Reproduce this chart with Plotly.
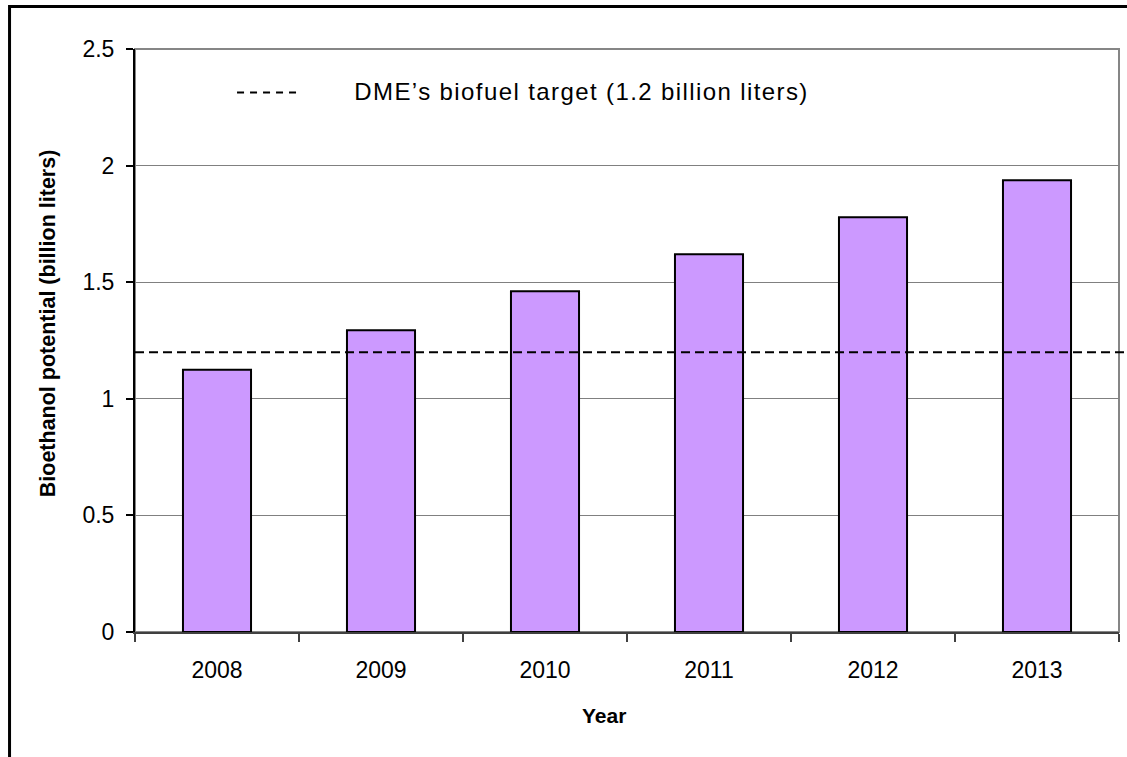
import plotly.graph_objects as go

# Bioethanol potential by year (billion liters)
years = ["2008", "2009", "2010", "2011", "2012", "2013"]
potential = [1.125, 1.294, 1.461, 1.620, 1.778, 1.937]

# DME biofuel target (billion liters)
target = 1.2
target_label = "DME\u2019s biofuel target (1.2 billion liters)"

y_ticks = [0, 0.5, 1, 1.5, 2, 2.5]
y_ticktext = ["0", "0.5", "1", "1.5", "2", "2.5"]

x_title = "Year"
y_title = "Bioethanol potential (billion liters)"

FONT = "Liberation Sans, Arial, Helvetica, sans-serif"

fig = go.Figure()
fig.add_trace(go.Bar(
    x=years,
    y=potential,
    width=0.415,
    marker=dict(color="#CC99FF", line=dict(color="#000000", width=2)),
    showlegend=False,
    hoverinfo="x+y",
))

shapes = [
    # plot-area frame (gray top and right edges)
    dict(type="rect", xref="paper", yref="paper", x0=0, x1=1, y0=0, y1=1,
         line=dict(color="#868686", width=2), layer="below"),
    # target line, running past the right edge of the plot area
    dict(type="line", xref="paper", yref="y", x0=0, x1=1.02, y0=target, y1=target,
         line=dict(color="#000000", width=2, dash="9px,5px"), layer="above"),
    # legend sample for the target line
    dict(type="line", xref="paper", yref="paper", x0=0.1037, x1=0.1677, y0=0.9254, y1=0.9254,
         line=dict(color="#000000", width=2, dash="7px,6px")),
    # outer chart frame
    dict(type="rect", xref="paper", yref="paper", x0=-0.1275, x1=1.05, y0=-0.3, y1=1.0728,
         line=dict(color="#000000", width=3)),
]

annotations = [
    # legend text for the target line
    dict(xref="paper", yref="paper", x=0.4533, y=0.9274, xanchor="center", yanchor="middle",
         align="center", text=target_label, showarrow=False,
         font=dict(family=FONT, size=24, color="#000000")),
    # axis titles
    dict(xref="paper", yref="paper", x=0.4766, y=-0.144, xanchor="center", yanchor="middle",
         text="<b>%s</b>" % x_title, showarrow=False,
         font=dict(family=FONT, size=21, color="#000000")),
    dict(xref="paper", yref="paper", x=-0.0884, y=0.5296, xanchor="center", yanchor="middle",
         text="<b>%s</b>" % y_title, showarrow=False, textangle=-90,
         font=dict(family=FONT, size=21.5, color="#000000")),
]

fig.update_layout(
    width=1127,
    height=757,
    margin=dict(l=135, r=8, t=48.5, b=125),
    paper_bgcolor="#FFFFFF",
    plot_bgcolor="#FFFFFF",
    font=dict(family=FONT, color="#000000"),
    shapes=shapes,
    annotations=annotations,
    xaxis=dict(
        type="category",
        tickson="boundaries",
        ticks="outside",
        ticklen=8,
        tickcolor="#404040",
        tickwidth=1.5,
        showline=True,
        linecolor="#404040",
        linewidth=2,
        showgrid=False,
        tickfont=dict(family=FONT, size=23, color="#000000"),
        ticklabelstandoff=16,
    ),
    yaxis=dict(
        range=[0, 2.5],
        tickvals=y_ticks,
        ticktext=y_ticktext,
        ticks="outside",
        ticklen=7,
        tickcolor="#000000",
        tickwidth=1.5,
        showline=True,
        linecolor="#000000",
        linewidth=2,
        showgrid=True,
        gridcolor="#808080",
        gridwidth=1.2,
        zeroline=False,
        tickfont=dict(family=FONT, size=23, color="#000000"),
        ticklabelstandoff=7,
    ),
    bargap=0.585,
)

# widen the tracking of the legend caption
spacing_js = (
    "var gd=document.getElementById('{plot_id}');"
    "gd.querySelectorAll('.annotation-text').forEach(function(t){"
    "if(t.textContent.indexOf('biofuel')>=0){t.style.letterSpacing='1.4px';}});"
)

fig.write_html("out.html", post_script=spacing_js)
